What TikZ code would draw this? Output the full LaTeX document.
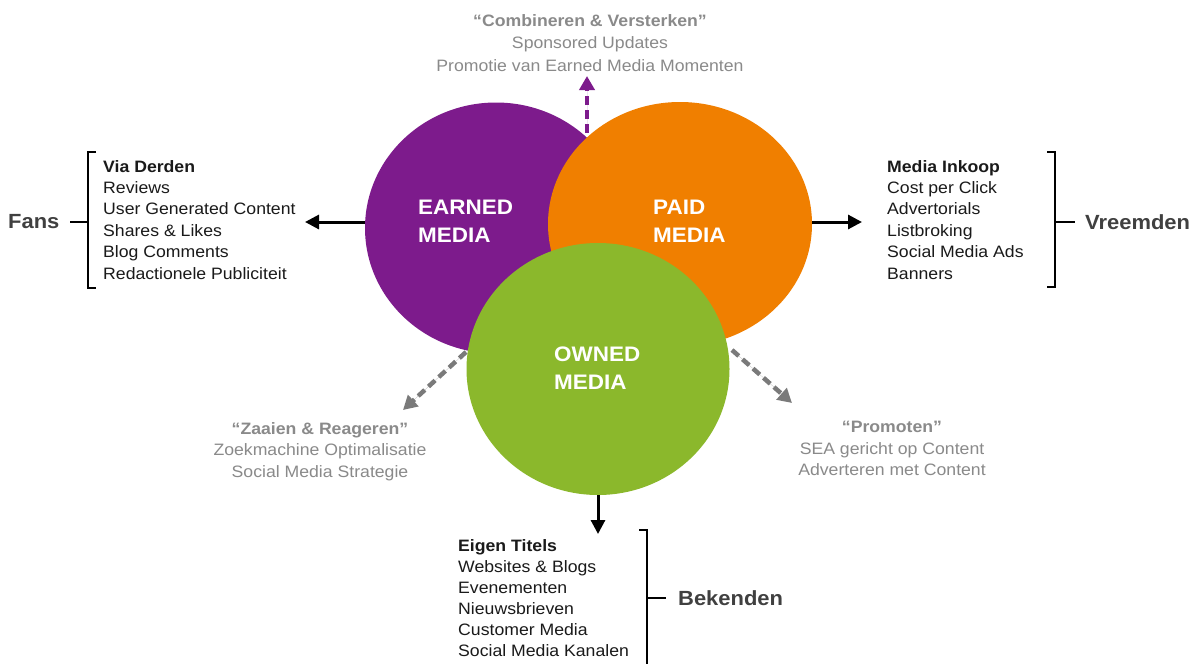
\documentclass[tikz,border=0pt]{standalone}
\usepackage{fontspec}
\setmainfont[FakeStretch=1.07]{Liberation Sans}
\usetikzlibrary{shapes.geometric,arrows.meta}
\definecolor{earned}{HTML}{7D1B8C}
\definecolor{paid}{HTML}{F07F00}
\definecolor{owned}{HTML}{8BB82C}
\definecolor{softgray}{HTML}{8A8A8A}
\definecolor{dashgray}{HTML}{7A7A7A}
\definecolor{groupgray}{HTML}{404040}
\definecolor{listblack}{HTML}{1A1A1A}
\begin{document}
\begin{tikzpicture}[x=1pt,y=-1pt,
  circ/.style={ellipse,inner sep=0pt,draw=none},
  lbl/.style={text=white,font=\fontsize{21}{28}\selectfont\bfseries,align=left,inner sep=0pt,anchor=west},
  listbox/.style={font=\fontsize{16.5}{21.4}\selectfont,align=left,inner sep=0pt,anchor=north west,text=listblack},
  note/.style={font=\fontsize{16.5}{21.5}\selectfont,align=center,inner sep=0pt,anchor=north,text=softgray},
  group/.style={font=\fontsize{20.5}{24}\selectfont\bfseries,text=groupgray,inner sep=0pt,anchor=west},
  solidarrow/.style={line width=3pt,-{Triangle[length=14pt,width=14pt]}},
  dasharrow/.style={line width=4.5pt,dash pattern=on 9pt off 5pt,-{Triangle[length=14pt,width=15pt]}},
  bracket/.style={line width=2.5pt,line join=miter}]
\useasboundingbox[fill=white] (0,0) rectangle (1197,664);

% circles
\node[circ,fill=earned,minimum width=262pt,minimum height=251pt] (earned) at (496,228) {};
\node[circ,fill=paid,minimum width=264pt,minimum height=244pt] (paid) at (680,224) {};
\node[circ,fill=owned,minimum width=263pt,minimum height=252pt] (owned) at (598,369) {};

\node[lbl] (earnedlbl) at (418,221) {EARNED\\MEDIA};
\node[lbl] (paidlbl) at (653,221) {PAID\\MEDIA};
\node[lbl] (ownedlbl) at (554,368.5) {OWNED\\MEDIA};

% lists
\node[listbox] (derden) at (103,160) {\textbf{Via Derden}\\Reviews\\User Generated Content\\Shares \& Likes\\Blog Comments\\Redactionele Publiciteit};
\node[listbox] (inkoop) at (887,160) {\textbf{Media Inkoop}\\Cost per Click\\Advertorials\\Listbroking\\Social Media Ads\\Banners};
\node[listbox,font=\fontsize{16.5}{21}\selectfont] (titels) at (458,539) {\textbf{Eigen Titels}\\Websites \& Blogs\\Evenementen\\Nieuwsbrieven\\Customer Media\\Social Media Kanalen};

% notes
\node[note,font=\fontsize{16.5}{22.5}\selectfont] (combi) at (590,14) {\textbf{“Combineren \& Versterken”}\\Sponsored Updates\\Promotie van Earned Media Momenten};
\node[note] (zaaien) at (320,422) {\textbf{“Zaaien \& Reageren”}\\Zoekmachine Optimalisatie\\Social Media Strategie};
\node[note] (promoten) at (892,421) {\textbf{“Promoten”}\\SEA gericht op Content\\Adverteren met Content};

% group labels
\node[group] (fans) at (8,222) {Fans};
\node[group] (vreemden) at (1085,222) {Vreemden};
\node[group] (bekenden) at (678,598) {Bekenden};

% arrow end points
\coordinate (fanstip) at (305,222);
\coordinate (vreemdtip) at (862,222);
\coordinate (bekendtip) at (598,534);
\coordinate (topstart) at (587,133);
\coordinate (toptip) at (587,76);
\coordinate (lstart) at (466,352);
\coordinate (ltip) at (403,410);
\coordinate (rstart) at (732,350);
\coordinate (rtip) at (792,403);

% solid arrows
\draw[solidarrow] (fanstip -| earned.west) -- (fanstip);
\draw[solidarrow] (vreemdtip -| paid.east) -- (vreemdtip);
\draw[solidarrow] (owned.south) -- (bekendtip);

% dashed arrows
\draw[dasharrow,draw=earned,fill=earned] (topstart) -- (toptip);
\draw[dasharrow,draw=dashgray,fill=dashgray] (lstart) -- (ltip);
\draw[dasharrow,draw=dashgray,fill=dashgray] (rstart) -- (rtip);

% brackets
\draw[bracket] (96,152) -- (88,152) -- (88,288) -- (96,288);
\draw[bracket] (88,222) -- (70,222);
\draw[bracket] (1047,152) -- (1055,152) -- (1055,287) -- (1047,287);
\draw[bracket] (1055,222) -- (1075,222);
\draw[bracket] (639,530) -- (647,530) -- (647,668);
\draw[bracket] (647,598) -- (666,598);
\end{tikzpicture}
\end{document}
